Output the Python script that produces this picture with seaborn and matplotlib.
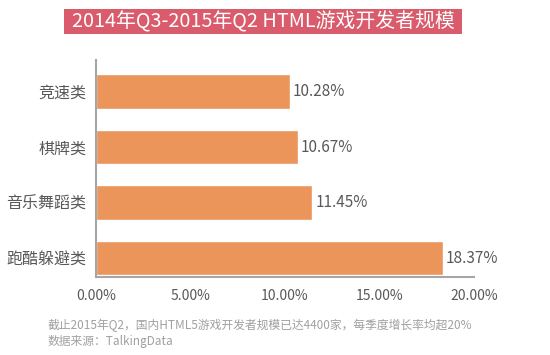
import matplotlib
matplotlib.use("Agg")
import matplotlib.pyplot as plt
import seaborn as sns
import pandas as pd
from matplotlib.patches import Rectangle
from matplotlib.ticker import FuncFormatter

categories = ["竞速类", "棋牌类", "音乐舞蹈类", "跑酷躲避类"]
values = [10.28, 10.67, 11.45, 18.37]
x_ticks = [0, 5, 10, 15, 20]
title = "2014年Q3-2015年Q2 HTML游戏开发者规模"
note1 = "截止2015年Q2，国内HTML5游戏开发者规模已达4400家，每季度增长率均超20%"
note2 = "数据来源：TalkingData"

sns.set_theme(style="white")
plt.rcParams['font.family'] = ['Noto Sans CJK SC', 'DejaVu Sans']

df = pd.DataFrame({"cat": categories, "val": values})

fig = plt.figure(figsize=(5.5, 3.55), dpi=100)
ax = fig.add_axes([96/550, 1-277/355, (474-96)/550, (277-60)/355])

sns.barplot(data=df, y="cat", x="val", orient="h", color="#EB955A",
            saturation=1, width=0.62, ax=ax)

ax.set_xlim(0, 20)
ax.set_ylim(3.34, -0.57)
ax.set_xticks(x_ticks)
ax.xaxis.set_major_formatter(FuncFormatter(lambda v, p: f"{v:.2f}%"))
ax.set_xlabel("")
ax.set_ylabel("")
ax.tick_params(axis="x", length=0, pad=9, labelsize=10, labelcolor="#595959")
ax.tick_params(axis="y", length=0, pad=7, labelsize=11.5, labelcolor="#595959")
for s in ["top", "right"]:
    ax.spines[s].set_visible(False)
for s in ["left", "bottom"]:
    ax.spines[s].set_color("#A6A6A6")
    ax.spines[s].set_linewidth(1.5)

for c in ax.containers:
    ax.bar_label(c, labels=[f"{v:.2f}%" for v in values], padding=2,
                 fontsize=11, color="#595959")

fig.patches.append(Rectangle((64/550, 1-34/355), 398/550, 25/355,
                             transform=fig.transFigure, facecolor="#D95B6C",
                             edgecolor="none", zorder=0))
fig.text(263/550, 1-21.5/355, title, ha="center", va="center",
         fontsize=14.3, color="white")

fig.text(48/550, 1-325/355, note1, ha="left", va="center", fontsize=8.5,
         color="#A0A0A0")
fig.text(48/550, 1-342/355, note2, ha="left", va="center", fontsize=8.5,
         color="#A0A0A0")

fig.savefig("out.png", dpi=100)
